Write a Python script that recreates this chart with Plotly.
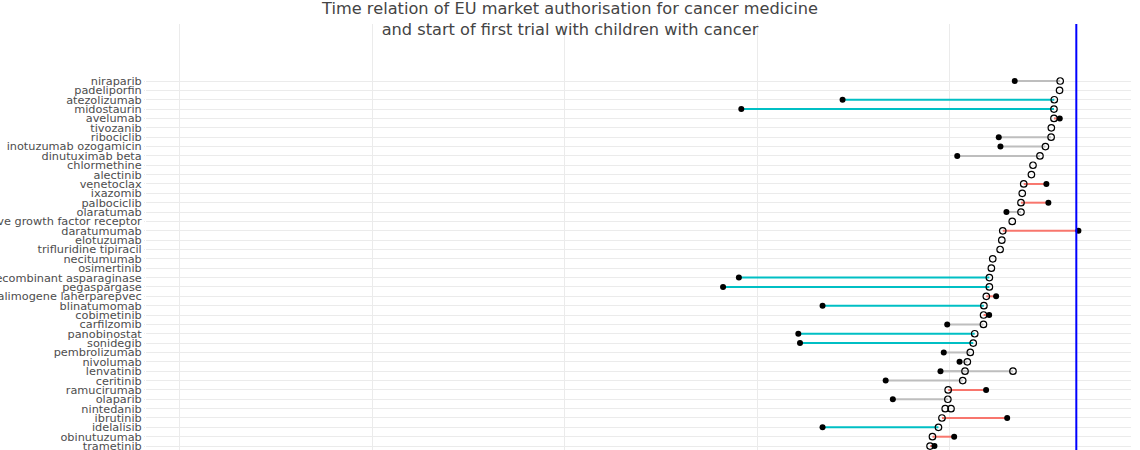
import plotly.graph_objects as go

# drugs in the order shown, top to bottom
drugs = [
    "niraparib", "padeliporfin", "atezolizumab", "midostaurin", "avelumab",
    "tivozanib", "ribociclib", "inotuzumab ozogamicin", "dinutuximab beta",
    "chlormethine", "alectinib", "venetoclax", "ixazomib", "palbociclib",
    "olaratumab",
    "allogeneic T cells genetically modified with a retroviral vector encoding for a truncated form of the human low affinity nerve growth factor receptor",
    "daratumumab", "elotuzumab", "trifluridine tipiracil", "necitumumab",
    "osimertinib", "recombinant asparaginase", "pegaspargase",
    "talimogene laherparepvec", "blinatumomab", "cobimetinib", "carfilzomib",
    "panobinostat", "sonidegib", "pembrolizumab", "nivolumab", "lenvatinib",
    "ceritinib", "ramucirumab", "olaparib", "nintedanib", "ibrutinib",
    "idelalisib", "obinutuzumab", "trametinib",
]

# EU marketing authorisation
authorisation = [
    "2017-11-16", "2017-11-10", "2017-09-21", "2017-09-18", "2017-09-18",
    "2017-08-24", "2017-08-22", "2017-06-29", "2017-05-08",
    "2017-03-03", "2017-02-16", "2016-12-05", "2016-11-21", "2016-11-09",
    "2016-11-09",
    "2016-08-18",
    "2016-05-20", "2016-05-11", "2016-04-25", "2016-02-15",
    "2016-02-02", "2016-01-14", "2016-01-14",
    "2015-12-16", "2015-11-23", "2015-11-20", "2015-11-19",
    "2015-08-28", "2015-08-14", "2015-07-17", "2015-06-19", "2015-05-28",
    "2015-05-06", "2014-12-19", "2014-12-16", "2014-11-21", "2014-10-21",
    "2014-09-18", "2014-07-23", "2014-06-30",
]

# second authorisation of the same substance (other product name)
authorisation_2 = {
    "lenvatinib": "2016-08-25",
    "nintedanib": "2015-01-15",
}

# start of first trial with children (None = no trial)
first_trial = [
    "2016-09-11", None, "2012-03-22", "2009-08-04", "2017-11-12",
    None, "2016-04-12", "2016-04-28", "2015-03-15",
    None, None, "2017-07-08", None, "2017-07-27",
    "2016-06-24",
    None,
    "2018-05-08", None, None, None,
    None, "2009-07-12", "2009-02-12",
    "2016-03-18", "2011-09-14", "2016-01-12", "2014-12-10",
    "2011-01-27", "2011-02-12", "2014-11-07", "2015-04-06", "2014-10-07",
    "2013-05-05", "2015-12-14", "2013-07-12", None, "2016-07-01",
    "2011-09-14", "2015-02-14", "2014-08-11",
]

# timing group of the first paediatric trial
timing = [
    "before", None, "long before", "long before", "after",
    None, "before", "before", "before",
    None, None, "after", None, "after",
    "before",
    None,
    "after", None, None, None,
    None, "long before", "long before",
    "after", "long before", "after", "before",
    "long before", "long before", "before", "before", "before",
    "before", "after", "before", None, "after",
    "long before", "after", "after",
]

cutoff_date = "2018-04-18"

group_colors = {"before": "#BEBEBE", "long before": "#00BFC4", "after": "#F8766D"}

fig = go.Figure()

# segments from trial start to authorisation
for grp, col in group_colors.items():
    xs, ys = [], []
    for d, a, t, g in zip(drugs, authorisation, first_trial, timing):
        if g != grp or t is None:
            continue
        for auth in [a, authorisation_2.get(d)]:
            if auth is None:
                continue
            xs += [t, auth, None]
            ys += [d, d, None]
    fig.add_trace(go.Scatter(x=xs, y=ys, mode="lines",
                             line=dict(color=col, width=2),
                             showlegend=False, hoverinfo="skip"))

# authorisation dates (open circles)
auth_x = list(authorisation) + list(authorisation_2.values())
auth_y = list(drugs) + list(authorisation_2.keys())
fig.add_trace(go.Scatter(x=auth_x, y=auth_y, mode="markers",
                         marker=dict(symbol="circle-open", size=6.5, color="black",
                                     line=dict(width=1.2, color="black")),
                         name="EU authorisation", showlegend=False))

# trial start (filled dots)
tr_x = [t for t in first_trial if t is not None]
tr_y = [d for d, t in zip(drugs, first_trial) if t is not None]
fig.add_trace(go.Scatter(x=tr_x, y=tr_y, mode="markers",
                         marker=dict(symbol="circle", size=6, color="black"),
                         name="first paediatric trial", showlegend=False))

fig.add_shape(type="line", xref="x", yref="paper",
              x0=cutoff_date, x1=cutoff_date, y0=0, y1=1,
              line=dict(color="blue", width=2))

fig.update_layout(
    width=1140, height=450,
    margin=dict(l=146, r=9, t=24, b=0),
    paper_bgcolor="white", plot_bgcolor="white",
    font=dict(family="DejaVu Sans"),
    title=dict(text="Time relation of EU market authorisation for cancer medicine<br>and start of first trial with children with cancer",
               x=0.5, xanchor="center", y=1 - 14 / 450, yanchor="middle",
               yref="container",
               font=dict(size=16.2, color="#444444")),
    xaxis=dict(type="date", range=["1994-02-15", "2019-09-19"],
               tick0="1995-01-01", dtick="M60", automargin=False,
               showgrid=True, gridcolor="#EBEBEB", gridwidth=1,
               zeroline=False, showline=False, ticks=""),
    yaxis=dict(type="category", categoryorder="array", categoryarray=drugs,
               tickmode="array", tickvals=drugs, ticktext=drugs,
               range=[39.42, -6.09], automargin=False,
               showgrid=True, gridcolor="#EBEBEB", gridwidth=1,
               zeroline=False, showline=False,
               ticks="outside", ticklen=1, tickcolor="#EBEBEB",
               tickfont=dict(size=11.3, color="#4D4D4D")),
)

fig.write_html("out.html", config={"displayModeBar": False},
               post_script="document.body.style.margin = '0';")
